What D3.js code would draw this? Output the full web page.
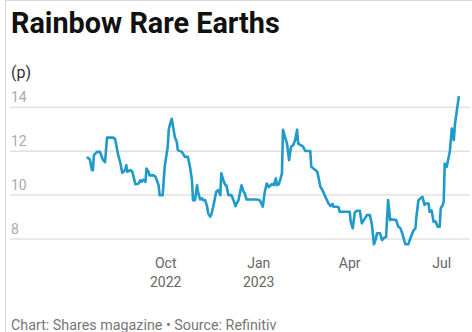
<!DOCTYPE html>
<html>
<head>
<meta charset="utf-8">
<script src="https://cdn.jsdelivr.net/npm/d3@7"></script>
<style>
  body { margin: 0; background: #fff; }
  svg { display: block; font-family: Roboto, "Noto Sans", sans-serif; }
</style>
</head>
<body>
<script>
// share price in pence
var dates = [
  "2022-07-15","2022-07-18","2022-07-20","2022-07-21","2022-07-22","2022-07-25","2022-07-28","2022-07-31",
  "2022-08-02","2022-08-04","2022-08-10","2022-08-12","2022-08-15","2022-08-17","2022-08-19","2022-08-22",
  "2022-08-23","2022-08-24","2022-08-27","2022-08-29","2022-09-01","2022-09-04","2022-09-06","2022-09-07",
  "2022-09-09","2022-09-11","2022-09-12","2022-09-14","2022-09-15","2022-09-19","2022-09-21","2022-09-24",
  "2022-09-25","2022-09-28","2022-09-30","2022-10-03","2022-10-04","2022-10-05","2022-10-07","2022-10-08",
  "2022-10-10","2022-10-12","2022-10-13","2022-10-17","2022-10-18","2022-10-20","2022-10-23","2022-10-25",
  "2022-10-27","2022-10-28","2022-10-30","2022-11-01","2022-11-02","2022-11-04","2022-11-06","2022-11-07",
  "2022-11-09","2022-11-11","2022-11-12","2022-11-14","2022-11-15","2022-11-17","2022-11-20","2022-11-22",
  "2022-11-24","2022-11-25","2022-11-27","2022-11-29","2022-11-30","2022-12-02","2022-12-05","2022-12-07",
  "2022-12-09","2022-12-12","2022-12-13","2022-12-15","2022-12-17","2022-12-18","2022-12-20","2022-12-30",
  "2023-01-02","2023-01-05","2023-01-07","2023-01-09","2023-01-11","2023-01-14","2023-01-16","2023-01-18",
  "2023-01-19","2023-01-21","2023-01-24","2023-01-25","2023-01-27","2023-01-29","2023-01-31","2023-02-02",
  "2023-02-04","2023-02-06","2023-02-08","2023-02-09","2023-02-12","2023-02-14","2023-02-16","2023-02-21",
  "2023-02-22","2023-02-26","2023-02-28","2023-03-03","2023-03-05","2023-03-08","2023-03-11","2023-03-13",
  "2023-03-15","2023-03-16","2023-03-19","2023-03-21","2023-03-22","2023-04-01","2023-04-02","2023-04-04",
  "2023-04-06","2023-04-08","2023-04-11","2023-04-13","2023-04-15","2023-04-18","2023-04-21","2023-04-23",
  "2023-04-25","2023-04-27","2023-04-28","2023-05-01","2023-05-03","2023-05-05","2023-05-07","2023-05-09",
  "2023-05-11","2023-05-12","2023-05-17","2023-05-19","2023-05-21","2023-05-23","2023-05-26","2023-05-29",
  "2023-05-31","2023-06-03","2023-06-05","2023-06-06","2023-06-08","2023-06-10","2023-06-12","2023-06-14",
  "2023-06-15","2023-06-18","2023-06-19","2023-06-21","2023-06-23","2023-06-25","2023-06-27","2023-06-29",
  "2023-06-30","2023-07-02","2023-07-03","2023-07-04","2023-07-06","2023-07-07","2023-07-09","2023-07-11",
  "2023-07-13","2023-07-14","2023-07-16","2023-07-18"
]

var prices = [
  11.74,11.62,11.14,11.14,11.82,11.97,11.97,11.6,
  11.5,12.62,12.62,12.55,11.82,11.5,11.02,11.14,
  11.36,11.06,11.14,11.06,10.5,10.52,10.68,10.6,
  10.7,10.6,11.21,11.06,10.9,10.9,10.83,10.45,
  10.0,10.0,11.29,12.2,12.95,13.18,13.48,13.2,
  12.65,12.42,12.05,11.97,11.9,11.74,11.74,11.29,
  10.68,9.77,9.77,10.45,10.15,9.8,9.85,9.77,
  9.77,9.47,9.17,9.02,9.1,9.47,10.15,10.23,
  10.0,10.99,10.68,10.45,10.45,10.0,10.0,9.77,
  9.5,9.77,10.0,10.45,10.15,10.1,9.8,9.8,
  9.77,9.47,10.15,10.53,10.36,10.5,10.45,10.76,
  10.45,10.5,10.99,12.98,12.65,12.35,11.59,12.2,
  12.27,12.5,12.98,12.35,12.27,12.2,12.01,12.01,
  11.29,11.14,11.06,10.38,10.23,9.92,9.62,9.5,
  9.6,9.47,9.47,9.45,9.24,9.24,8.79,8.49,
  9.2,9.29,9.29,8.71,8.86,9.09,9.09,8.64,
  7.76,8.03,8.26,8.26,7.95,8.05,8.1,9.77,
  8.86,8.9,8.86,8.56,8.5,8.26,7.76,7.76,
  8.03,8.38,8.49,9.02,9.77,9.85,9.92,9.55,
  9.62,9.62,9.24,9.3,8.79,8.79,8.56,8.56,
  9.39,9.55,9.7,11.44,11.29,11.52,11.97,13.03,
  12.5,13.18,13.86,14.51
]

var yTicks = [8, 10, 12, 14]
var xTicks = ["2022-10-01", "2023-01-01", "2023-04-01", "2023-07-01"]
var xTickTop = ["Oct", "Jan", "Apr", "Jul"]
var xTickBottom = ["2022", "2023", "", ""]

var width = 472,
    height = 332;

var parseDate = d3.timeParse("%Y-%m-%d")
var data = dates.map(function(d, i) { return { date: parseDate(d), value: prices[i] } })

var svg = d3.select("body")
  .append("svg")
  .attr("width", width)
  .attr("height", height)

// frame
svg.append("rect")
  .attr("x", 5.5)
  .attr("y", 0.5)
  .attr("width", width + 10)
  .attr("height", height + 10)
  .attr("fill", "none")
  .attr("stroke", "#d6d6d6")

svg.append("text")
  .text("Rainbow Rare Earths")
  .attr("x", 11)
  .attr("y", 33)
  .attr("font-size", 28.8)
  .attr("font-weight", "bold")
  .attr("fill", "#111")

svg.append("text")
  .text("(p)")
  .attr("x", 11)
  .attr("y", 78)
  .attr("font-size", 16)
  .attr("fill", "#333")

var x = d3.scaleTime()
  .domain([parseDate("2022-10-01"), parseDate("2023-07-01")])
  .range([165.7, 441.7])

var y = d3.scaleLinear()
  .domain([8, 14])
  .range([239, 107.3])

var grid = svg.append("g")

grid.selectAll("line")
  .data(yTicks)
  .enter().append("line")
  .attr("x1", 10)
  .attr("x2", 470)
  .attr("y1", function(d) { return y(d) })
  .attr("y2", function(d) { return y(d) })
  .attr("stroke", "#e2e2e2")
  .attr("stroke-width", 1.5)

grid.selectAll("text")
  .data(yTicks)
  .enter().append("text")
  .text(function(d) { return d })
  .attr("x", 11)
  .attr("y", function(d) { return y(d) - 5.5 })
  .attr("font-size", 14)
  .attr("fill", "#aaa")

var xAxis = svg.append("g")

var xt = xAxis.selectAll("g")
  .data(xTicks)
  .enter().append("g")
  .attr("transform", function(d) { return "translate(" + x(parseDate(d)) + " 0)" })

xt.append("text")
  .text(function(d, i) { return xTickTop[i] })
  .attr("text-anchor", "middle")
  .attr("y", 268)
  .attr("font-size", 14)
  .attr("fill", "#666")

xt.append("text")
  .text(function(d, i) { return xTickBottom[i] })
  .attr("text-anchor", "middle")
  .attr("y", 286.5)
  .attr("font-size", 14)
  .attr("fill", "#666")

var line = d3.line()
  .x(function(d) { return x(d.date) })
  .y(function(d) { return y(d.value) })

svg.append("path")
  .datum(data)
  .attr("d", line)
  .attr("fill", "none")
  .attr("stroke", "#1f9ac9")
  .attr("stroke-width", 2.6)
  .attr("stroke-linejoin", "round")

svg.append("text")
  .text("Chart: Shares magazine \u2022 Source: Refinitiv")
  .attr("x", 11)
  .attr("y", 330)
  .attr("font-size", 14.3)
  .attr("fill", "#777")
</script>
</body>
</html>
